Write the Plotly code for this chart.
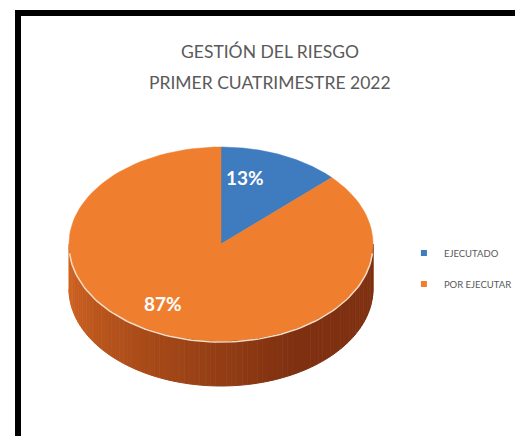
import numpy as np
import plotly.graph_objects as go

# data
labels = ["EJECUTADO", "POR EJECUTAR"]
values = [13, 87]
colors = ["#3F7BBF", "#EF7F2F"]
title_lines = ["GESTIÓN DEL RIESGO", "PRIMER CUATRIMESTRE 2022"]

# pie geometry (pixel-like units, y grows downward)
cx, cy = 213, 236
a, b = 152, 97
depth = 45


def rim(t_deg, dy=0):
    t = np.radians(t_deg)
    return cx + a * np.sin(t), cy - b * np.cos(t) + dy


fig = go.Figure()

# side of the 3D pie (front half), shaded from left to right
n_seg = 90
t_edges = np.linspace(270, 90, n_seg + 1)
light = np.array([212, 102, 34])
dark = np.array([126, 48, 16])
for i in range(n_seg):
    t0, t1 = t_edges[i], t_edges[i + 1]
    ts = np.linspace(t0, t1, 4)
    xt, yt = rim(ts)
    xb, yb = rim(ts[::-1], depth)
    f = min(1.0, 1.5 * i / (n_seg - 1))
    c = (light * (1 - f) + dark * f).astype(int)
    col = f"rgb({c[0]},{c[1]},{c[2]})"
    fig.add_trace(go.Scatter(
        x=np.concatenate([xt, xb]), y=np.concatenate([yt, yb]),
        fill="toself", fillcolor=col, mode="lines",
        line=dict(color=col, width=1), hoverinfo="skip", showlegend=False))

# top surface wedges, clockwise from 12 o'clock
total = sum(values)
start = 0.0
for lab, val, col in zip(labels, values, colors):
    span = 360.0 * val / total
    ts = np.linspace(start, start + span, 120)
    xs, ys = rim(ts)
    fig.add_trace(go.Scatter(
        x=np.concatenate([[cx], xs, [cx]]), y=np.concatenate([[cy], ys, [cy]]),
        fill="toself", fillcolor=col, mode="lines",
        line=dict(color=col, width=0.5), name=lab, showlegend=False,
        hovertemplate=f"{lab}: {val}%<extra></extra>"))
    start += span

# light rim between top and side
ts = np.linspace(95, 265, 100)
xs, ys = rim(ts)
fig.add_trace(go.Scatter(x=xs, y=ys + 1, mode="lines",
                         line=dict(color="#F8DCC4", width=1.5),
                         hoverinfo="skip", showlegend=False))

# legend entries
for lab, col in zip(labels, colors):
    fig.add_trace(go.Scatter(x=[None], y=[None], mode="markers", name=lab,
                             legendgroup=lab,
                             marker=dict(symbol="square", size=6, color=col)))

# data labels
label_pos = [(237, 169), (155, 295)]
for val, (lx, ly) in zip(values, label_pos):
    fig.add_annotation(x=lx, y=ly, text=f"<b>{val}%</b>", showarrow=False,
                       font=dict(family="Lato", size=19, color="white"))

# title lines
for i, line in enumerate(title_lines):
    fig.add_annotation(xref="paper", yref="paper", x=0.501, y=0.901 - 0.071 * i,
                       xanchor="center", yanchor="middle",
                       text=line, showarrow=False,
                       font=dict(family="Lato", size=17.5, color="#5A5A5A"))

# frame
fig.add_shape(type="rect", xref="x", yref="y", x0=10, y0=5, x1=530, y1=440,
              line=dict(color="black", width=6), layer="below")

fig.update_layout(
    width=523, height=436,
    margin=dict(l=0, r=0, t=0, b=0),
    paper_bgcolor="white", plot_bgcolor="white",
    xaxis=dict(range=[0, 523], visible=False, fixedrange=True),
    yaxis=dict(range=[436, 0], visible=False, fixedrange=True),
    legend=dict(x=0.757, y=0.4025, xanchor="left", yanchor="middle",
                font=dict(family="Lato", size=9.5, color="#595959"),
                itemwidth=30, tracegroupgap=12, bgcolor="rgba(0,0,0,0)"),
    showlegend=True,
)

fig.write_html("out.html")
